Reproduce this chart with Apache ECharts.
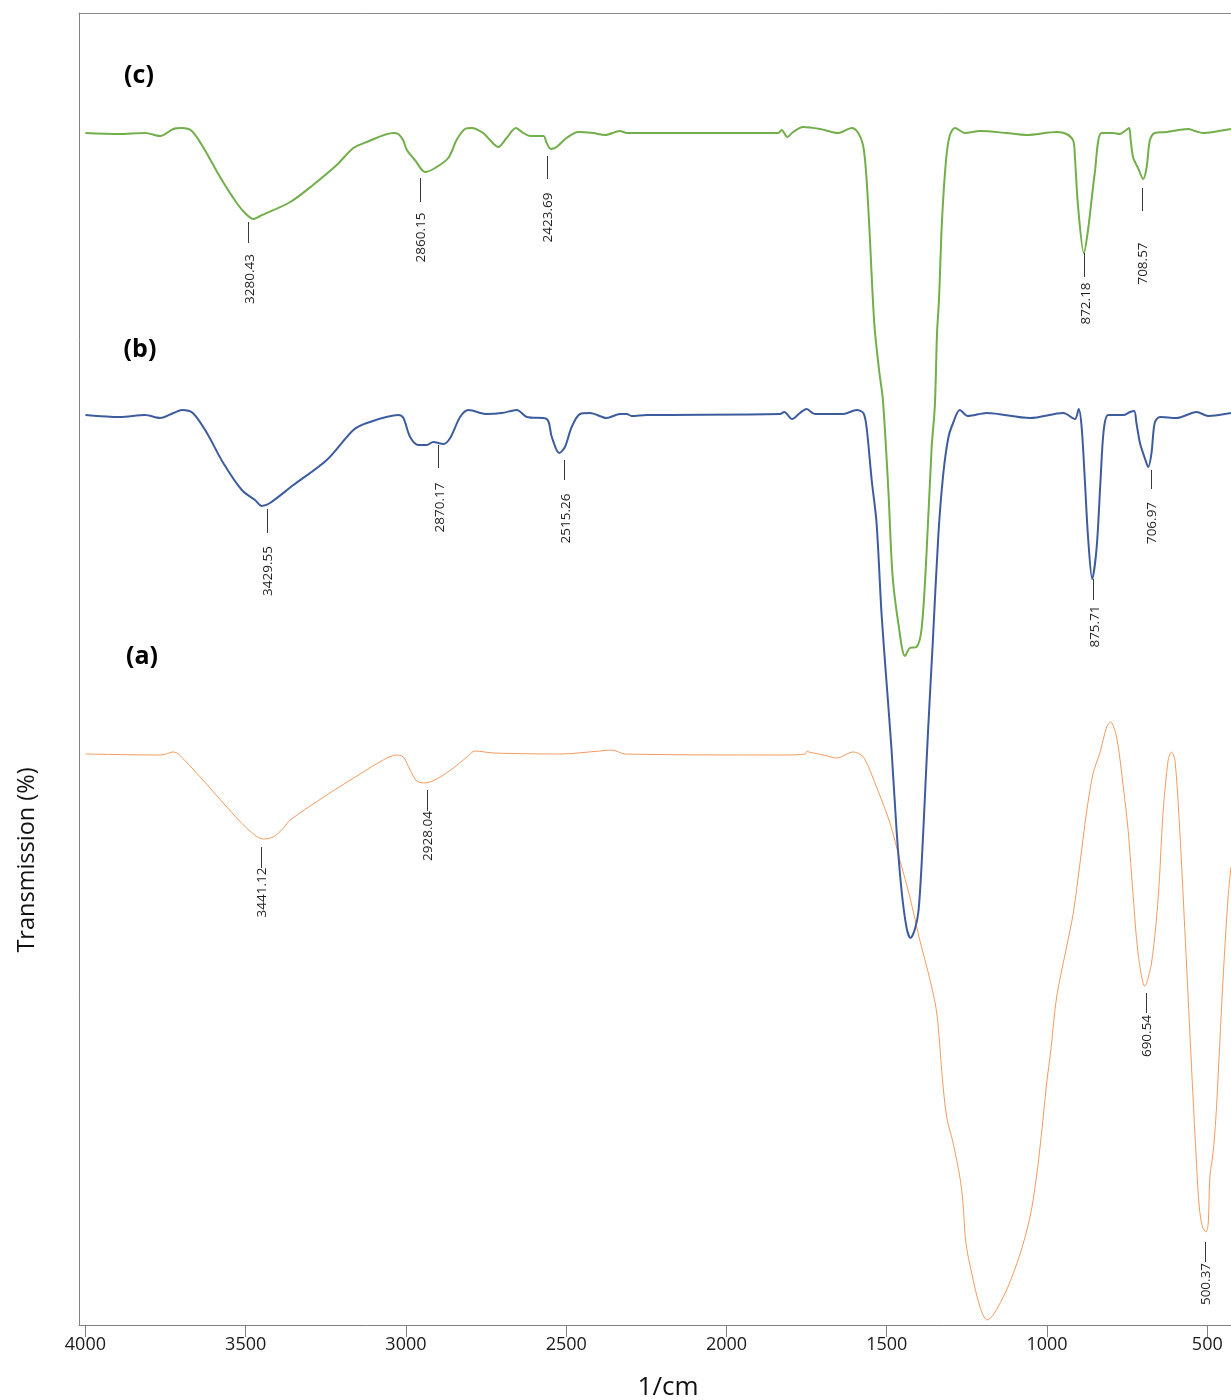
<!DOCTYPE html>
<html>
<head>
<meta charset="utf-8">
<script src="https://cdn.jsdelivr.net/npm/echarts@6.0.0/dist/echarts.min.js"></script>
<style>
html,body{margin:0;padding:0;background:#fff;}
#chart{width:1231px;height:1400px;}
</style>
</head>
<body>
<div id="chart"></div>
<script>
// x tick labels (wavenumber, 1/cm)
const xTicks = [4000, 3500, 3000, 2500, 2000, 1500, 1000, 500];

// spectrum (c) - green  [wavenumber, transmission]
const specC = [[4000,119.2],[3897,119.1],[3814,119.2],[3767,118.9],[3726,119.6],[3699,119.7],[3668,119.4],[3633,117.8],[3580,114.8],[3528,112.2],[3502,111.2],[3476,110.6],[3455,110.9],[3361,112.3],[3290,114.0],[3216,116.0],[3164,117.7],[3122,118.3],[3039,119.2],[3024,119.1],[3009,118.5],[2997,117.5],[2972,116.5],[2940,115.3],[2909,115.7],[2868,116.7],[2842,118.5],[2816,119.6],[2795,119.7],[2759,119.2],[2738,118.5],[2712,117.8],[2686,118.7],[2657,119.7],[2634,119.2],[2613,118.9],[2571,118.9],[2561,118.2],[2548,117.6],[2530,117.8],[2499,118.7],[2462,119.3],[2416,119.2],[2379,119.0],[2332,119.4],[2311,119.2],[2260,119.2],[1839,119.2],[1828,119.5],[1810,118.8],[1792,119.3],[1761,119.8],[1708,119.6],[1651,119.2],[1609,119.7],[1589,119.2],[1574,118.0],[1565,115.5],[1555,110.2],[1539,100.2],[1524,95.5],[1512,92.5],[1495,83.5],[1482,75.0],[1464,70.2],[1443,66.9],[1428,67.7],[1407,67.8],[1391,69.7],[1376,77.1],[1360,87.7],[1350,91.9],[1343,99.3],[1337,102.5],[1328,110.2],[1315,116.5],[1303,119.0],[1287,119.7],[1256,119.2],[1209,119.4],[1126,119.2],[1064,119.0],[970,119.3],[939,119.1],[918,118.4],[913,116.8],[903,111.8],[885,107.2],[872,109.5],[851,115.2],[830,119.2],[794,119.2],[773,119.1],[757,119.4],[744,119.7],[739,118.5],[731,116.7],[716,115.7],[700,114.6],[689,115.8],[679,118.5],[664,119.2],[627,119.3],[560,119.6],[539,119.4],[513,119.2],[482,119.3],[426,119.6]];

// spectrum (b) - blue
const specB = [[4000,91.0],[3892,90.8],[3814,91.0],[3767,90.7],[3725,91.2],[3699,91.5],[3665,91.2],[3621,89.2],[3570,86.2],[3512,83.5],[3471,82.5],[3450,81.9],[3424,82.2],[3351,84.0],[3247,86.5],[3164,89.5],[3122,90.2],[3024,91.0],[3008,90.7],[2987,88.8],[2961,88.0],[2935,88.0],[2915,88.3],[2883,88.1],[2862,88.7],[2831,90.8],[2805,91.5],[2748,91.1],[2701,91.2],[2654,91.5],[2623,90.8],[2561,90.6],[2545,88.8],[2522,87.2],[2504,87.8],[2483,89.8],[2457,91.1],[2426,91.2],[2374,90.7],[2332,91.1],[2311,91.1],[2296,90.9],[2249,91.0],[1833,91.1],[1820,91.3],[1795,90.6],[1771,91.2],[1750,91.6],[1724,91.1],[1636,91.1],[1594,91.5],[1573,91.2],[1563,89.8],[1547,84.5],[1532,80.3],[1516,71.0],[1500,64.0],[1485,57.5],[1469,49.3],[1454,43.5],[1438,39.7],[1426,38.7],[1412,39.6],[1401,41.4],[1391,46.2],[1381,52.8],[1371,59.5],[1356,68.5],[1339,79.0],[1324,85.0],[1308,88.7],[1293,90.2],[1272,91.5],[1247,90.9],[1188,91.2],[1053,90.7],[949,91.2],[913,90.6],[901,91.6],[892,89.8],[882,84.5],[872,78.8],[859,74.6],[845,77.8],[833,84.5],[823,89.5],[809,91.0],[762,91.0],[741,91.3],[728,91.4],[721,90.2],[710,88.2],[695,86.7],[684,85.8],[674,87.2],[664,90.2],[648,90.8],[596,90.7],[533,91.3],[497,90.9],[426,91.2]];

// spectrum (a) - orange
const specA = [[4000,57.1],[3767,57.0],[3748,57.1],[3727,57.3],[3710,57.1],[3642,54.8],[3559,51.8],[3497,49.7],[3445,48.6],[3414,48.8],[3382,49.7],[3361,50.5],[3247,53.0],[3143,55.1],[3071,56.5],[3029,57.0],[3008,56.8],[2987,55.5],[2966,54.4],[2940,54.2],[2904,54.6],[2852,55.7],[2810,56.8],[2784,57.4],[2727,57.2],[2519,57.1],[2395,57.4],[2357,57.5],[2317,57.1],[1833,57.0],[1754,57.1],[1749,57.4],[1743,57.3],[1698,57.0],[1656,56.7],[1605,57.3],[1573,56.8],[1532,53.8],[1490,50.2],[1459,46.5],[1428,42.8],[1397,38.5],[1365,34.5],[1344,31.2],[1326,24.5],[1313,20.8],[1293,18.2],[1272,14.8],[1263,12.5],[1253,8.2],[1235,5.2],[1209,1.8],[1187,0.5],[1168,1.0],[1126,3.5],[1085,7.0],[1053,10.8],[1033,14.8],[1017,19.2],[1001,24.2],[988,27.5],[970,32.8],[939,37.8],[918,41.2],[897,46.2],[877,51.2],[856,55.2],[835,57.2],[814,59.8],[802,60.3],[783,58.8],[762,53.8],[747,49.5],[731,42.8],[716,37.2],[695,33.9],[674,36.2],[653,42.8],[638,51.2],[622,56.5],[612,57.3],[601,56.5],[586,49.5],[570,39.5],[554,29.0],[544,22.5],[533,15.8],[525,11.8],[515,9.8],[504,9.3],[497,10.2],[492,14.8],[482,17.2],[473,20.8],[466,25.0],[451,34.5],[435,42.8],[426,45.8]];

// peak annotations: [wavenumber, leaderTop, leaderBottom, textMiddle, label]
const peaksC = [[3492,110.3,108.2,104.6,'3280.43'],[2956,114.7,112.3,108.75,'2860.15'],[2561,116.9,114.6,110.75,'2423.69'],[884,107.2,104.8,102.15,'872.18'],[705,113.7,111.4,106.15,'708.57']];
const peaksB = [[3434,81.6,79.2,75.4,'3429.55'],[2899,88.0,85.7,81.75,'2870.17'],[2506,86.5,84.5,80.65,'2515.26'],[856,74.6,72.5,69.85,'875.71'],[677,85.5,83.6,80.2,'706.97']];
const peaksA = [[3452,47.8,45.7,43.25,'3441.12'],[2935,53.5,51.4,48.9,'2928.04'],[692,33.2,31.2,28.9,'690.54'],[508,8.3,6.3,4.1,'500.37']];

const seriesNames = ['(c)', '(b)', '(a)'];

const chart = echarts.init(document.getElementById('chart'), null, {renderer: 'canvas'});

function annotationSeries(peaks) {
  return {
    type: 'custom',
    coordinateSystem: 'cartesian2d',
    silent: true,
    z: 5,
    data: peaks.map(p => [p[0], p[1], p[2], p[3]]),
    encode: {x: 0, y: 1},
    renderItem: function (params, api) {
      const p = peaks[params.dataIndex];
      const top = api.coord([p[0], p[1]]);
      const bot = api.coord([p[0], p[2]]);
      const mid = api.coord([p[0], p[3]]);
      const lx = Math.round(top[0]) + 0.5;
      return {
        type: 'group',
        children: [
          {type: 'line', shape: {x1: lx, y1: top[1], x2: lx, y2: bot[1]},
           style: {stroke: '#3a3a3a', lineWidth: 1}},
          {type: 'text', x: top[0] + 1.5, y: mid[1], rotation: Math.PI / 2,
           style: {text: p[4], fill: '#1e1e1e', font: '13.5px "Open Sans"',
                   align: 'center', verticalAlign: 'middle'}}
        ]
      };
    }
  };
}

const option = {
  animation: false,
  backgroundColor: '#ffffff',
  grid: {left: 79, right: 0, top: 13, bottom: 75, containLabel: false},
  xAxis: [{
    type: 'value', inverse: true, min: 426, max: 4020,
    axisLine: {show: true, lineStyle: {color: '#808080', width: 1}},
    axisTick: {show: true, inside: false, length: 12, lineStyle: {color: '#808080'}, customValues: xTicks},
    axisLabel: {show: true, margin: 11, color: '#1a1a1a', fontSize: 18, fontFamily: 'Open Sans',
                customValues: xTicks, formatter: v => String(v)},
    splitLine: {show: false}
  }, {
    type: 'value', inverse: true, min: 426, max: 4020, position: 'top',
    axisLine: {show: true, lineStyle: {color: '#8c8c8c', width: 1}},
    axisTick: {show: false}, axisLabel: {show: false}, splitLine: {show: false}
  }],
  yAxis: {
    type: 'value', min: 0, max: 131.2,
    axisLine: {show: true, lineStyle: {color: '#808080', width: 1}},
    axisTick: {show: false}, axisLabel: {show: false}, splitLine: {show: false}
  },
  graphic: [
    {type: 'text', x: 27, y: 860, rotation: Math.PI / 2,
     style: {text: 'Transmission (%)', font: '23.5px "Open Sans"', fill: '#111', align: 'center', verticalAlign: 'middle'}},
    {type: 'text', x: 668, y: 1388,
     style: {text: '1/cm', font: '26px "Open Sans"', fill: '#111', align: 'center', verticalAlign: 'middle'}},
    {type: 'text', x: 139, y: 76,
     style: {text: seriesNames[0], font: 'bold 25px "Open Sans"', fill: '#000', align: 'center', verticalAlign: 'middle'}},
    {type: 'text', x: 140, y: 350,
     style: {text: seriesNames[1], font: 'bold 25px "Open Sans"', fill: '#000', align: 'center', verticalAlign: 'middle'}},
    {type: 'text', x: 142, y: 657,
     style: {text: seriesNames[2], font: 'bold 25px "Open Sans"', fill: '#000', align: 'center', verticalAlign: 'middle'}}
  ],
  series: [
    {name: seriesNames[2], type: 'line', data: specA, showSymbol: false, smooth: 0.3,
     lineStyle: {color: '#F29B5F', width: 1}, z: 2},
    {name: seriesNames[1], type: 'line', data: specB, showSymbol: false, smooth: 0.3,
     lineStyle: {color: '#3D5C9E', width: 2}, z: 3},
    {name: seriesNames[0], type: 'line', data: specC, showSymbol: false, smooth: 0.3,
     lineStyle: {color: '#72AE4A', width: 2}, z: 4},
    annotationSeries(peaksC),
    annotationSeries(peaksB),
    annotationSeries(peaksA)
  ]
};
chart.setOption(option);
</script>
</body>
</html>
